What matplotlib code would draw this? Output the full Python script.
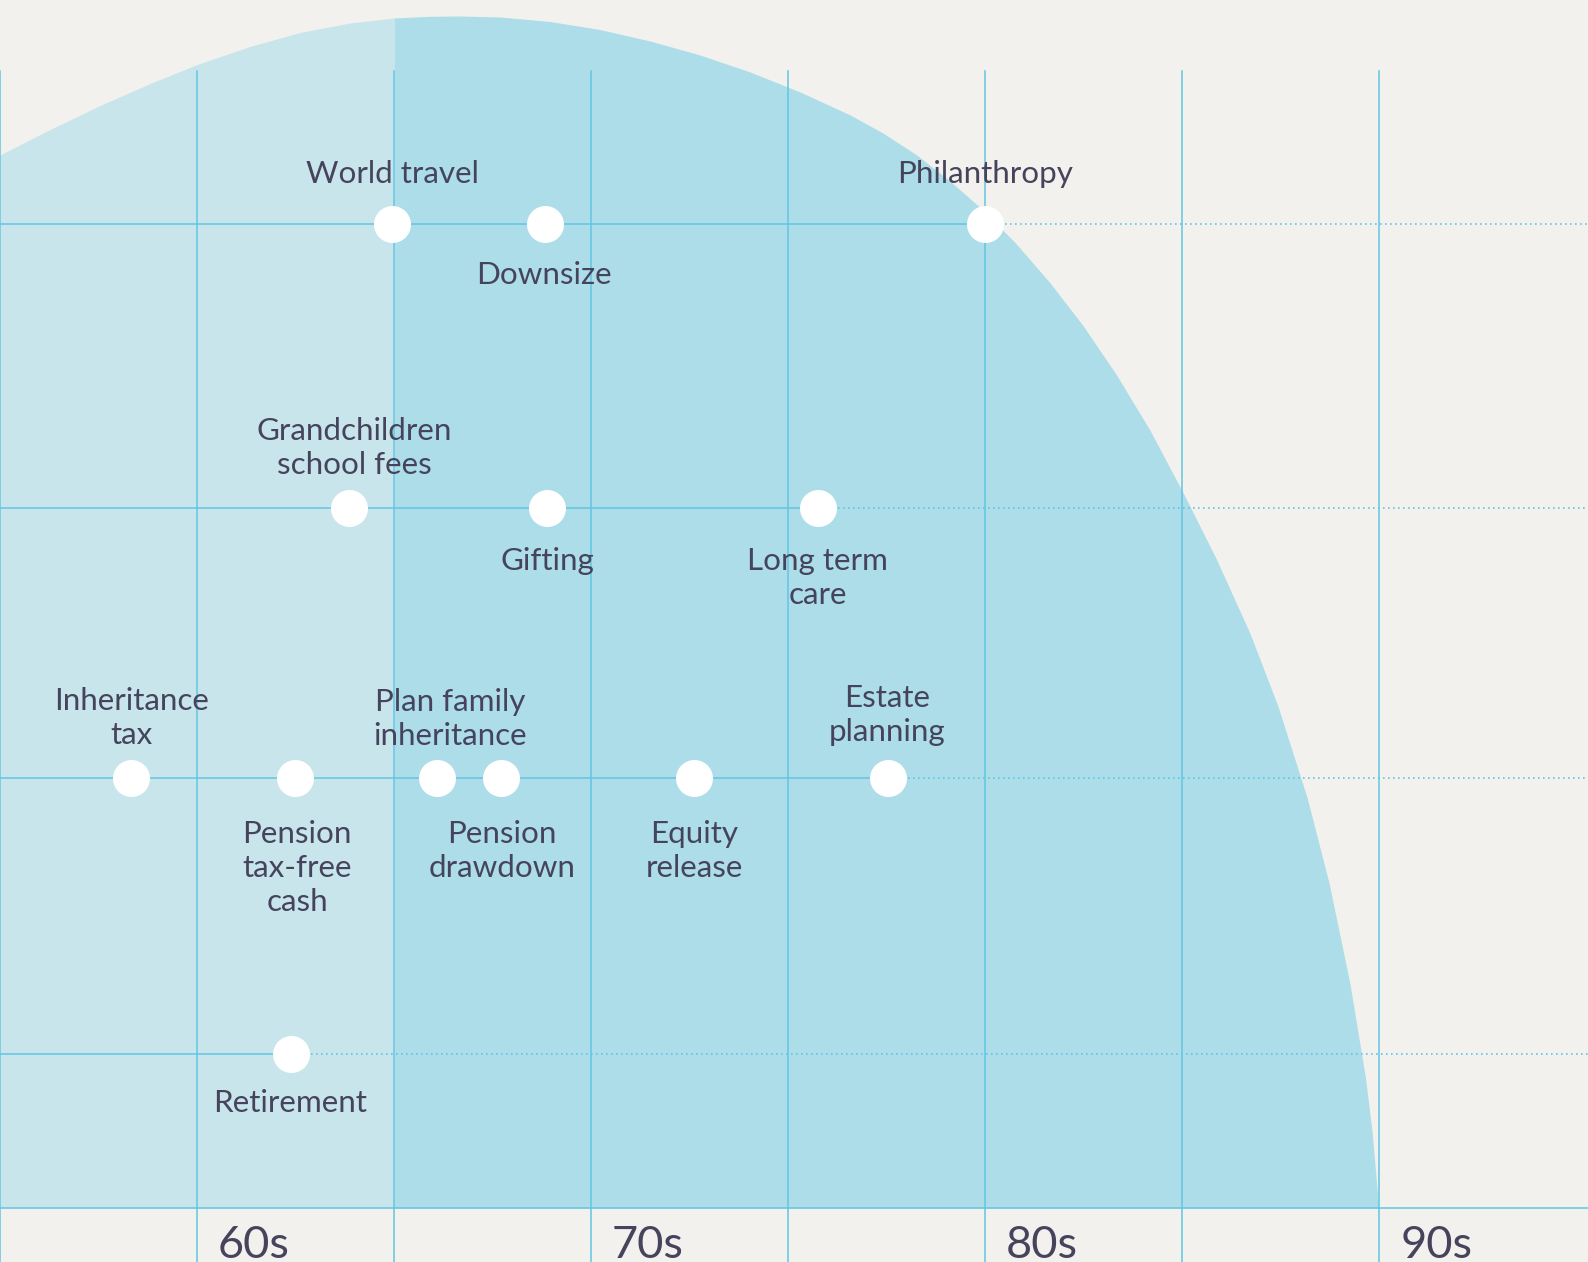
import matplotlib.pyplot as plt
import numpy as np

# outline of the shaded "life" area (age, level)
curve_age = [55.0, 56.27, 57.54, 58.81, 60.0, 61.34, 62.61, 63.88, 65.0, 65.91,
             66.67, 67.69, 68.95, 70.22, 71.49, 72.76, 74.03, 75.30, 76.57, 77.40,
             78.26, 79.10, 79.94, 80.78, 81.64, 82.48, 83.34, 84.18, 85.01, 85.85,
             86.71, 87.42, 88.16, 88.72, 89.25, 89.64, 89.81, 89.98]
curve_level = [10.53, 10.785, 11.025, 11.245, 11.435, 11.615, 11.755, 11.85, 11.90, 11.917,
               11.92, 11.91, 11.865, 11.785, 11.67, 11.53, 11.36, 11.16, 10.93, 10.75,
               10.53, 10.27, 9.98, 9.643, 9.252, 8.823, 8.323, 7.775, 7.158, 6.498,
               5.75, 5.022, 4.108, 3.25, 2.242, 1.312, 0.77, 0.0]

# life events
events = ["World travel", "Downsize", "Philanthropy",
          "Grandchildren\nschool fees", "Gifting", "Long term\ncare",
          "Inheritance\ntax", "Pension\ntax-free\ncash", "Plan family\ninheritance",
          "Pension\ndrawdown", "Equity\nrelease", "Estate\nplanning",
          "Retirement"]
event_age = [64.95, 68.84, 80.0,
             63.86, 68.88, 75.75,
             58.33, 62.49, 66.09, 67.71, 72.62, 77.53,
             62.38]
event_level = [9.84, 9.84, 9.84,
               7.0, 7.0, 7.0,
               4.3, 4.3, 4.3, 4.3, 4.3, 4.3,
               1.54]
label_side = ["above", "below", "above",
              "above", "below", "below",
              "above", "below", "above", "below", "below", "above",
              "below"]
label_dx = [0, -2, 0, 5, 0, 0, 0, 2, 13, 1, 0, -1, -1]      # px
label_dy = [-5, -3, -5, 2, -1, -1, 2, 2, 3, 2, 2, -1, -5]   # px, + is down

decades = [60, 70, 80, 90]
decade_labels = ["60s", "70s", "80s", "90s"]
grid_ages = [55, 60, 65, 70, 75, 80, 85, 90]

bg = "#f2f1ed"
light = "#c8e5eb"
dark = "#acdde9"
line_c = "#62c6e2"
text_c = "#45445c"

plt.rcParams['font.family'] = ['Lato', 'DejaVu Sans']

fig = plt.figure(figsize=(15.88, 12.62), dpi=100)
fig.patch.set_facecolor(bg)
ax = fig.add_axes([0, 0, 1, 1])
ax.set_facecolor(bg)
ax.set_xlim(55.0, 95.29)
ax.set_ylim(-0.54, 12.08)
ax.axis("off")

ca = np.array(curve_age)
cl = np.array(curve_level)
ax.fill_between(ca[ca <= 65], 0, cl[ca <= 65], color=light, lw=0, zorder=1)
ax.fill_between(ca[ca >= 65], 0, cl[ca >= 65], color=dark, lw=0, zorder=1)

# vertical grid
for g in grid_ages:
    ax.plot([g, g], [-0.54, 11.37], color=line_c, lw=1.1, zorder=2)
# baseline
ax.axhline(0, color=line_c, lw=1.1, zorder=2)

# row lines: solid up to last event, dotted afterwards
for lev in sorted(set(event_level)):
    last = max(a for a, l in zip(event_age, event_level) if l == lev)
    ax.plot([55.0, last], [lev, lev], color=line_c, lw=1.1, zorder=2)
    ax.plot([last, 95.29], [lev, lev], color="#5fc8e3", lw=1.2,
            linestyle=(0, (1, 2)), zorder=2)

ax.scatter(event_age, event_level, s=710, color="white", lw=0, zorder=4)

for name, a, l, side, dx, dy in zip(events, event_age, event_level,
                                    label_side, label_dx, label_dy):
    if side == "above":
        off, va = 22, "bottom"
    else:
        off, va = -28.8, "top"
    ax.annotate(name, (a, l), xytext=(dx * 0.72, off - dy * 0.72),
                textcoords="offset points", ha="center", va=va,
                fontsize=22.6, color=text_c, linespacing=1.27, zorder=5)

for d, lab in zip(decades, decade_labels):
    ax.annotate(lab, (d, -0.50), xytext=(15, 0), textcoords="offset points",
                ha="left", va="baseline", fontsize=32.5, color=text_c, zorder=5)

fig.savefig("out.png", dpi=100, facecolor=bg)
